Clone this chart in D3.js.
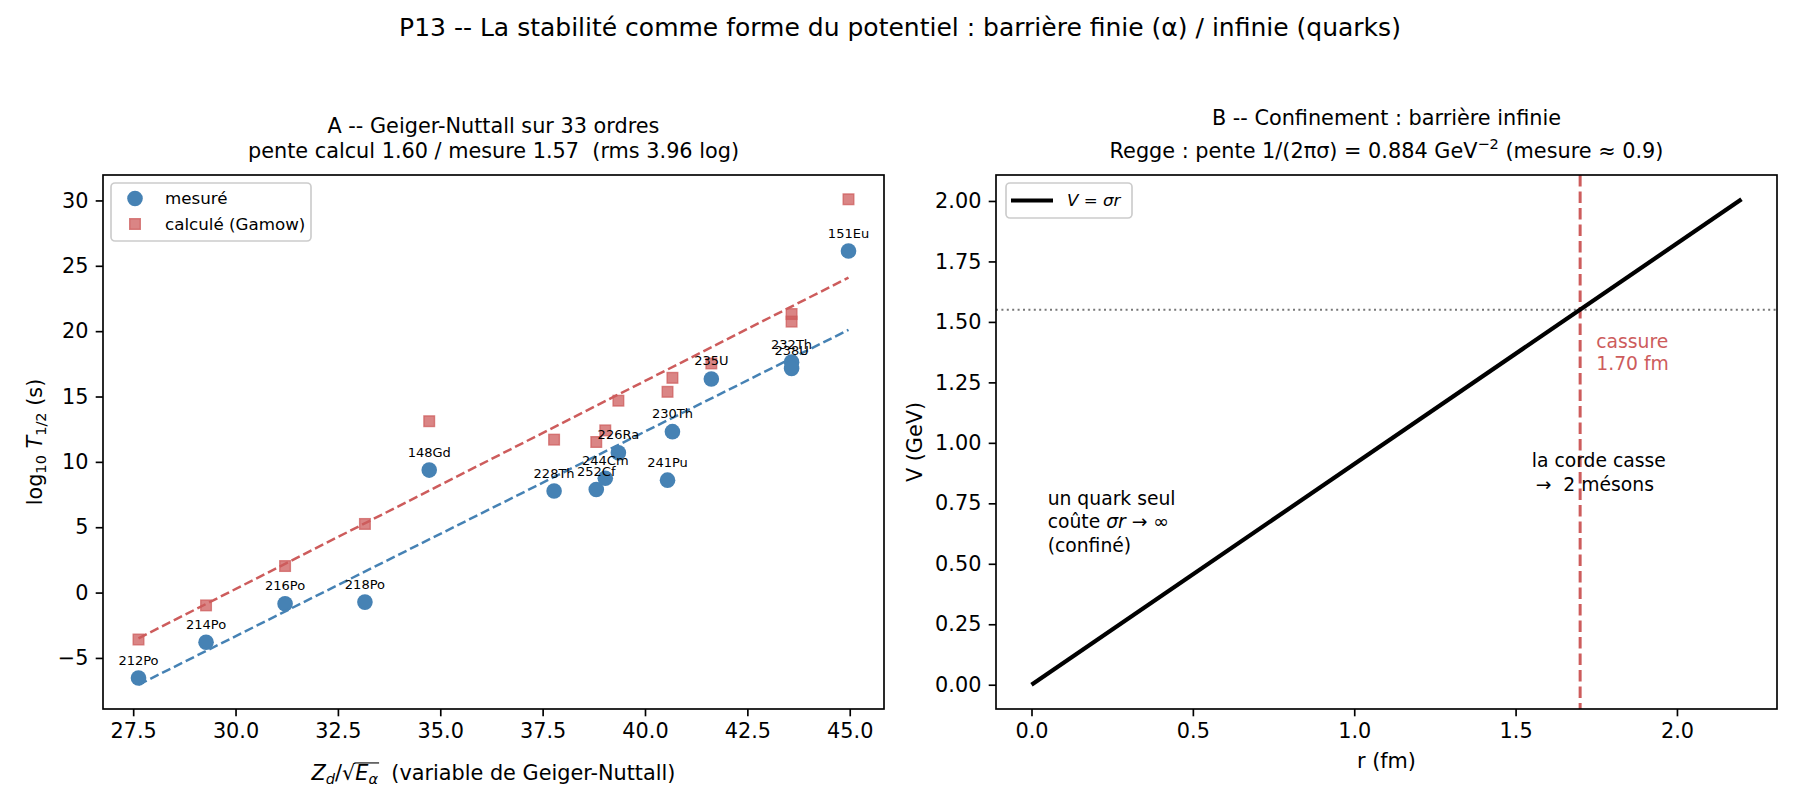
<!DOCTYPE html>
<html><head><meta charset="utf-8">
<script src="https://cdn.jsdelivr.net/npm/d3@7"></script>
<style>
html,body{margin:0;padding:0;background:#fff;}
svg{display:block;font-family:"DejaVu Sans",sans-serif;}
text{white-space:pre;}
</style></head><body>
<svg id="chart" width="1800" height="810"></svg>
<script>
// ---------- Panel A data : Geiger-Nuttall ----------
const nuclides     = ["212Po","214Po","216Po","218Po","148Gd","228Th","252Cf","244Cm","226Ra","230Th","241Pu","235U","232Th","238U","151Eu"];
const gnVariable   = [27.63, 29.28, 31.21, 33.16, 34.73, 37.78, 38.81, 39.03, 39.35, 40.67, 40.55, 41.62, 43.58, 43.58, 44.97];
const logTMeasured = [-6.54, -3.80, -0.86, -0.73, 9.37, 7.77, 7.89, 8.75, 10.69, 12.31, 8.60, 16.34, 17.63, 17.14, 26.13];
const logTGamow    = [-3.59, -0.98, 2.03, 5.25, 13.11, 11.70, 11.52, 12.41, 14.68, 16.43, 15.36, 17.53, 21.31, 20.73, 30.09];
const fitEndsX     = [27.63, 44.97];
const fitMeasuredY = [-7.05, 20.10];
const fitGamowY    = [-3.50, 24.10];
const xTicksA = [27.5, 30.0, 32.5, 35.0, 37.5, 40.0, 42.5, 45.0];
const yTicksA = [-5, 0, 5, 10, 15, 20, 25, 30];

// ---------- Panel B data : confinement ----------
const rValues = [0, 2.2];
const vValues = [0, 2.007];
const rBreak = 1.70;
const vBreak = 1.55;
const xTicksB = [0.0, 0.5, 1.0, 1.5, 2.0];
const yTicksB = [0.00, 0.25, 0.50, 0.75, 1.00, 1.25, 1.50, 1.75, 2.00];

const svg = d3.select("#chart");
const FONT = "DejaVu Sans";
const FS_TICK = 20.8, FS_LAB = 20.8, FS_TITLE = 20.8, FS_SUP = 25, FS_LEG = 16.7, FS_ANN = 13, FS_TXT = 18.75;
const BLUE = "#4682b4", RED = "#cd5c5c";

const boxA = {x0:103, x1:884, y0:175, y1:709};
const boxB = {x0:996, x1:1777, y0:175, y1:709};

function pad(ext, f){ f = f || 0.05; const r = ext[1]-ext[0]; return [ext[0]-f*r, ext[1]+f*r]; }

// rich text with italic / sub / sup parts
function rich(sel, parts, fs){
  let shift = 0;
  parts.forEach(p => {
    const target = p.sub ? 0.2*fs : (p.sup ? -0.42*fs : 0);
    const ts = sel.append("tspan").text(p.t);
    if (p.it) ts.attr("font-style","italic");
    if (p.sub || p.sup) ts.attr("font-size", fs*0.7);
    if (p.dx) ts.attr("dx", p.dx);
    const dy = target - shift;
    if (dy !== 0) ts.attr("dy", dy);
    shift = target;
  });
  return sel;
}

function drawAxes(box, x, y, xt, yt, xf, yf){
  const g = svg.append("g");
  const ax = g.append("g").attr("transform",`translate(0,${box.y1})`)
    .call(d3.axisBottom(x).tickValues(xt).tickFormat(xf).tickSize(7.3).tickPadding(7.3).tickSizeOuter(0));
  const ay = g.append("g").attr("transform",`translate(${box.x0},0)`)
    .call(d3.axisLeft(y).tickValues(yt).tickFormat(yf).tickSize(7.3).tickPadding(7.3).tickSizeOuter(0));
  [ax, ay].forEach(a => {
    a.select(".domain").remove();
    a.attr("font-family", FONT).attr("font-size", FS_TICK);
    a.selectAll("text").attr("fill","#000");
    a.selectAll("line").attr("stroke","#000").attr("stroke-width",1.67);
  });
}
function spines(box){
  svg.append("rect").attr("x",box.x0).attr("y",box.y0)
    .attr("width",box.x1-box.x0).attr("height",box.y1-box.y0)
    .attr("fill","none").attr("stroke","#000").attr("stroke-width",1.67);
}
function clip(id, box){
  svg.append("clipPath").attr("id",id).append("rect")
    .attr("x",box.x0).attr("y",box.y0).attr("width",box.x1-box.x0).attr("height",box.y1-box.y0);
}

// ---------------- suptitle ----------------
svg.append("text").attr("x",900).attr("y",36).attr("text-anchor","middle")
  .attr("font-size",FS_SUP).attr("fill","#000")
  .text("P13 -- La stabilité comme forme du potentiel : barrière finie (α) / infinie (quarks)");

// ================= Panel A =================
const xA = d3.scaleLinear().domain(pad(d3.extent(gnVariable))).range([boxA.x0, boxA.x1]);
const yA = d3.scaleLinear().domain(pad(d3.extent([...logTMeasured, ...logTGamow, ...fitMeasuredY, ...fitGamowY]))).range([boxA.y1, boxA.y0]);
clip("clipA", boxA);
drawAxes(boxA, xA, yA, xTicksA, yTicksA, d3.format(".1f"), d3.format("d"));

const gA = svg.append("g").attr("clip-path","url(#clipA)");
gA.selectAll("circle.meas").data(gnVariable).join("circle").attr("class","meas")
  .attr("cx",(d)=>xA(d)).attr("cy",(d,i)=>yA(logTMeasured[i])).attr("r",7.8)
  .attr("fill",BLUE);
gA.selectAll("rect.calc").data(gnVariable).join("rect").attr("class","calc")
  .attr("x",(d)=>xA(d)-5.3).attr("y",(d,i)=>yA(logTGamow[i])-5.3)
  .attr("width",10.6).attr("height",10.6)
  .attr("fill",RED).attr("fill-opacity",0.75)
  .attr("stroke",RED).attr("stroke-opacity",0.75).attr("stroke-width",1.4);
const lineA = d3.line().x(d=>xA(d[0])).y(d=>yA(d[1]));
gA.append("path").attr("d", lineA(fitEndsX.map((x,i)=>[x, fitMeasuredY[i]])))
  .attr("fill","none").attr("stroke",BLUE).attr("stroke-width",2.5).attr("stroke-dasharray","9.2,4");
gA.append("path").attr("d", lineA(fitEndsX.map((x,i)=>[x, fitGamowY[i]])))
  .attr("fill","none").attr("stroke",RED).attr("stroke-width",2.5).attr("stroke-dasharray","9.2,4");
svg.append("g").selectAll("text").data(nuclides).join("text")
  .attr("x",(d,i)=>xA(gnVariable[i])).attr("y",(d,i)=>yA(logTMeasured[i])-13.5)
  .attr("text-anchor","middle").attr("font-size",FS_ANN).attr("fill","#000").text(d=>d);
spines(boxA);

// legend A
const legA = svg.append("g");
legA.append("rect").attr("x",111).attr("y",183).attr("width",200).attr("height",58).attr("rx",4)
  .attr("fill","#fff").attr("fill-opacity",0.8).attr("stroke","#cccccc").attr("stroke-width",1.67);
legA.append("circle").attr("cx",135).attr("cy",198.5).attr("r",7.8).attr("fill",BLUE);
legA.append("rect").attr("x",135-5.3).attr("y",224-5.3).attr("width",10.6).attr("height",10.6)
  .attr("fill",RED).attr("fill-opacity",0.75).attr("stroke",RED).attr("stroke-opacity",0.75).attr("stroke-width",1.4);
legA.append("text").attr("x",165).attr("y",204).attr("font-size",FS_LEG).text("mesuré");
legA.append("text").attr("x",165).attr("y",229.5).attr("font-size",FS_LEG).text("calculé (Gamow)");

// titles A
const cxA = (boxA.x0+boxA.x1)/2;
svg.append("text").attr("x",cxA).attr("y",133).attr("text-anchor","middle").attr("font-size",FS_TITLE)
  .text("A -- Geiger-Nuttall sur 33 ordres");
svg.append("text").attr("x",cxA).attr("y",158).attr("text-anchor","middle").attr("font-size",FS_TITLE)
  .text("pente calcul 1.60 / mesure 1.57  (rms 3.96 log)");

// x label A with radical
const xlabA = svg.append("text").attr("x",cxA).attr("y",780).attr("text-anchor","middle").attr("font-size",FS_LAB);
rich(xlabA, [{t:"Z",it:1},{t:"d",it:1,sub:1},{t:"/"},{t:"√"},{t:"E",it:1},{t:"α",it:1,sub:1},{t:"  (variable de Geiger-Nuttall)"}], FS_LAB);
{
  const n = xlabA.node();
  const xs = n.getEndPositionOfChar(3).x - 1;
  const xe = n.getEndPositionOfChar(5).x + 1;
  svg.append("line").attr("x1",xs).attr("x2",xe).attr("y1",780-0.82*FS_LAB).attr("y2",780-0.82*FS_LAB)
    .attr("stroke","#000").attr("stroke-width",1.1);
}
// y label A
const ylabA = svg.append("text").attr("transform",`translate(42,${(boxA.y0+boxA.y1)/2}) rotate(-90)`)
  .attr("text-anchor","middle").attr("font-size",FS_LAB);
rich(ylabA, [{t:"log"},{t:"10",sub:1},{t:" "},{t:"T",it:1},{t:"1/2",sub:1},{t:" (s)"}], FS_LAB);

// ================= Panel B =================
const xB = d3.scaleLinear().domain(pad(d3.extent(rValues))).range([boxB.x0, boxB.x1]);
const yB = d3.scaleLinear().domain(pad(d3.extent(vValues))).range([boxB.y1, boxB.y0]);
clip("clipB", boxB);
drawAxes(boxB, xB, yB, xTicksB, yTicksB, d3.format(".1f"), d3.format(".2f"));
const gB = svg.append("g").attr("clip-path","url(#clipB)");
gB.append("line").attr("x1",boxB.x0).attr("x2",boxB.x1).attr("y1",yB(vBreak)).attr("y2",yB(vBreak))
  .attr("stroke","#777").attr("stroke-width",2).attr("stroke-dasharray","2,3.4");
gB.append("line").attr("x1",xB(rBreak)).attr("x2",xB(rBreak)).attr("y1",boxB.y0).attr("y2",boxB.y1)
  .attr("stroke",RED).attr("stroke-width",3).attr("stroke-dasharray","11.5,5");
gB.append("path").attr("d", d3.line().x(d=>xB(d[0])).y(d=>yB(d[1]))(rValues.map((r,i)=>[r, vValues[i]])))
  .attr("fill","none").attr("stroke","#000").attr("stroke-width",4.2);

// annotations B (anchor = baseline of last line)
function multiline(x, y, lines, color, spacing){
  lines.forEach((parts, k) => {
    const t = svg.append("text").attr("x",x).attr("y", y - (lines.length-1-k)*spacing)
      .attr("font-size",FS_TXT).attr("fill",color);
    rich(t, parts, FS_TXT);
  });
}
multiline(xB(1.75), yB(1.3), [[{t:"cassure"}],[{t:"1.70 fm"}]], RED, 22);
multiline(xB(1.55), yB(0.8), [[{t:"la corde casse"}],[{t:"→",dx:4},{t:"  2 mésons"}]], "#000", 24);
multiline(xB(0.05), yB(0.55), [[{t:"un quark seul"}],[{t:"coûte "},{t:"σr",it:1},{t:" → ∞"}],[{t:"(confiné)"}]], "#000", 23.5);
spines(boxB);

// legend B
const legB = svg.append("g");
legB.append("rect").attr("x",1006).attr("y",183).attr("width",126).attr("height",35).attr("rx",4)
  .attr("fill","#fff").attr("fill-opacity",0.8).attr("stroke","#cccccc").attr("stroke-width",1.67);
legB.append("line").attr("x1",1011).attr("x2",1053).attr("y1",200.5).attr("y2",200.5).attr("stroke","#000").attr("stroke-width",4.2);
rich(legB.append("text").attr("x",1067).attr("y",206).attr("font-size",FS_LEG),
  [{t:"V",it:1},{t:" = "},{t:"σr",it:1}], FS_LEG);

// titles B
const cxB = (boxB.x0+boxB.x1)/2;
svg.append("text").attr("x",cxB).attr("y",125).attr("text-anchor","middle").attr("font-size",FS_TITLE)
  .text("B -- Confinement : barrière infinie");
rich(svg.append("text").attr("x",cxB).attr("y",158).attr("text-anchor","middle").attr("font-size",FS_TITLE),
  [{t:"Regge : pente 1/(2πσ) = 0.884 GeV"},{t:"−2",sup:1},{t:" (mesure ≈ 0.9)"}], FS_TITLE);

// axis labels B
svg.append("text").attr("x",cxB).attr("y",768).attr("text-anchor","middle").attr("font-size",FS_LAB).text("r (fm)");
svg.append("text").attr("transform",`translate(922,${(boxB.y0+boxB.y1)/2}) rotate(-90)`)
  .attr("text-anchor","middle").attr("font-size",FS_LAB).text("V (GeV)");
</script></body></html>
